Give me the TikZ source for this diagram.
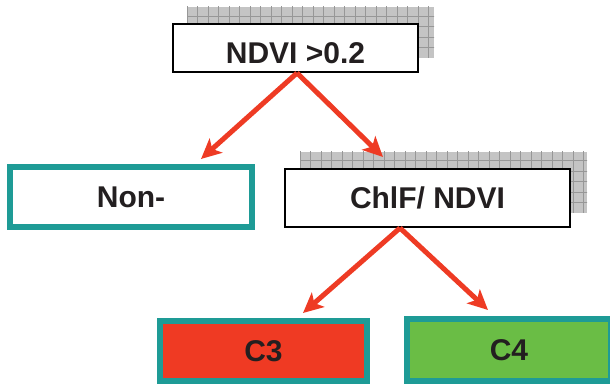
\documentclass[tikz,border=0pt]{standalone}
\usepackage{fontspec}
\setmainfont{Liberation Sans}
\usetikzlibrary{arrows.meta,calc}
\definecolor{tealb}{HTML}{1E9B96}
\definecolor{redf}{HTML}{EF3A23}
\definecolor{greenf}{HTML}{6ABD45}
\definecolor{arrowc}{HTML}{EE3B24}
\definecolor{txt}{HTML}{231F20}
\definecolor{shadef}{HTML}{C4C4C4}
\definecolor{shadel}{HTML}{979797}
\tikzset{
  box/.style={rectangle, inner sep=0pt, text=txt, font=\fontsize{30}{36}\selectfont\bfseries, text height=21.5pt, text depth=0pt},
  blackbox/.style={box, draw=black, line width=2pt, fill=white},
  tealbox/.style={box, draw=tealb, line width=6pt},
  arr/.style={draw=arrowc, line width=5pt, -{Stealth[length=20pt,width=19pt,inset=5pt]}},
  shadowgrid/.style={fill=shadef},
  gridline/.style={draw=shadel, line width=0.7pt}
}
\begin{document}
\begin{tikzpicture}[x=1pt,y=1pt]
\useasboundingbox (0,0) rectangle (610,385);
\clip (0,0) rectangle (610,385);
% shadows
\fill[shadowgrid] (187,327) rectangle (434,378);
\begin{scope}
\clip (187,327) rectangle (434,378);
\draw[gridline, shift={(187,327)}] (0,0) grid[step=10.5] (252,60);
\end{scope}
\fill[shadowgrid] (300,172) rectangle (587,233);
\begin{scope}
\clip (300,172) rectangle (587,233);
\draw[gridline, shift={(300,172)}] (0,0) grid[step=10.5] (294,70);
\end{scope}
% boxes
\node[blackbox, minimum width=245pt, minimum height=48pt, text height=31pt] (top) at (295.5,337) {NDVI >0.2};
\node[tealbox, fill=white, minimum width=242pt, minimum height=60pt] (non) at (131,188) {Non-};
\node[blackbox, minimum width=285pt, minimum height=58pt] (chlf) at (427.5,187) {ChlF/ NDVI};
\node[tealbox, fill=redf, minimum width=207pt, minimum height=60pt] (c3) at (263.5,34) {C3};
\node[tealbox, fill=greenf, minimum width=204pt, minimum height=62pt] (c4) at (509,35) {C4};
% arrows
\draw[arr] ($(top.south)+(1.5,0)$) -- ($(non.north)+(70,5)$);
\draw[arr] ($(top.south)+(1.5,0)$) -- ($(chlf.north)+(-44.5,11)$);
\draw[arr] ($(chlf.south)+(-27.5,0)$) -- ($(c3.north)+(39.5,5)$);
\draw[arr] ($(chlf.south)+(-27.5,0)$) -- ($(c4.north)+(-21,6)$);
\end{tikzpicture}
\end{document}
